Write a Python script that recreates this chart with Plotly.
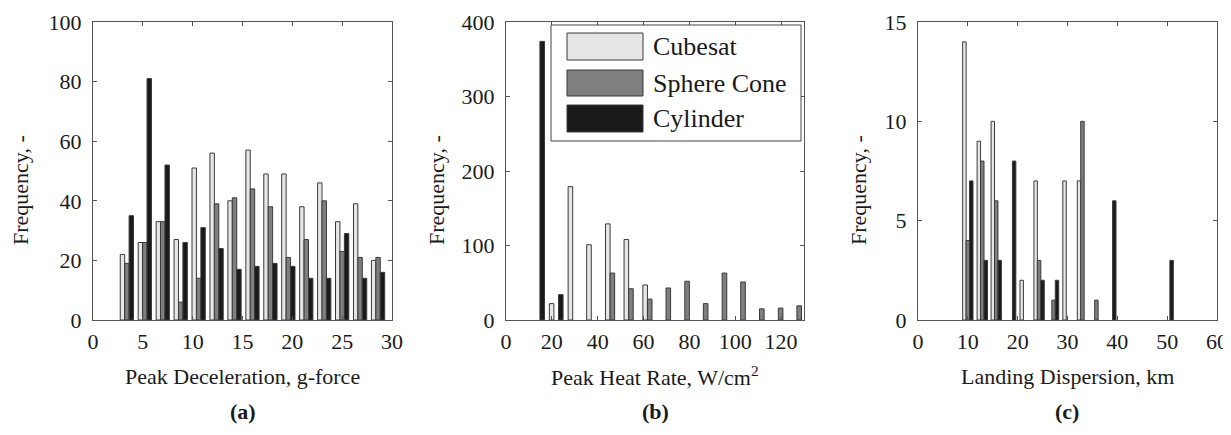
import plotly.graph_objects as go

PAGE_W, PAGE_H = 1231, 435
OFF = 8                      # default page body margin in the written html
W, H = PAGE_W - OFF, PAGE_H - 2 * OFF

# ---------------- data ----------------
series_names = ["Cubesat", "Sphere Cone", "Cylinder"]

# (a) Peak deceleration, g-force
a_bins = [3.4, 5.2, 7.0, 8.8, 10.6, 12.4, 14.2, 16.0, 17.8, 19.6, 21.4, 23.2, 25.0, 26.8, 28.6]
a_cubesat = [22, 26, 33, 27, 51, 56, 40, 57, 49, 49, 38, 46, 33, 39, 20]
a_sphere = [19, 26, 33, 6, 14, 39, 41, 44, 38, 21, 27, 40, 23, 21, 21]
a_cylinder = [35, 81, 52, 26, 31, 24, 17, 18, 19, 18, 14, 14, 29, 14, 16]

# (b) Peak heat rate, W/cm^2
b_bins = [13.8, 21.9, 30.1, 38.2, 46.4, 54.5, 62.7, 70.8, 79.0, 87.1, 95.3, 103.4, 111.6, 119.8, 127.9]
b_cubesat = [0, 22, 179, 101, 129, 108, 47, 0, 0, 0, 0, 0, 0, 0, 0]
b_sphere = [0, 0, 0, 0, 63, 42, 28, 43, 52, 22, 63, 51, 15, 16, 19]
b_cylinder = [374, 34, 0, 0, 0, 0, 0, 0, 0, 0, 0, 0, 0, 0, 0]

# (c) Landing dispersion, km
c_bins = [10.0, 12.9, 15.7, 18.6, 21.5, 24.3, 27.2, 30.1, 33.0, 35.8, 38.7, 41.6, 44.5, 47.3, 50.2]
c_cubesat = [14, 9, 10, 0, 2, 7, 0, 7, 7, 0, 0, 0, 0, 0, 0]
c_sphere = [4, 8, 6, 0, 0, 3, 1, 0, 10, 1, 0, 0, 0, 0, 0]
c_cylinder = [7, 3, 3, 8, 0, 2, 2, 0, 0, 0, 6, 0, 0, 0, 3]

a_xticks = [0, 5, 10, 15, 20, 25, 30]
b_xticks = [0, 20, 40, 60, 80, 100, 120]
c_xticks = [0, 10, 20, 30, 40, 50, 60]
a_yticks = [0, 20, 40, 60, 80, 100]
b_yticks = [0, 100, 200, 300, 400]
c_yticks = [0, 5, 10, 15]

x_titles = ["Peak Deceleration, g-force", "Peak Heat Rate, W/cm<sup>2</sup>", "Landing Dispersion, km"]
y_title = "Frequency, -"
panel_tags = ["(a)", "(b)", "(c)"]

# ---------------- style ----------------
fills = ["#e6e6e6", "#7f7f7f", "#1a1a1a"]
edge = "#3a3a3a"
FONT = "Liberation Serif, Times New Roman, serif"
TXT = "#1a1a1a"


def px(x):
    """page pixel x -> paper fraction"""
    return (x - OFF) / W


def py(y):
    """page pixel y -> paper fraction"""
    return 1 - (y - OFF) / H


panels = [
    dict(bins=a_bins, vals=[a_cubesat, a_sphere, a_cylinder], xr=[0, 30], yr=[0, 100],
         xt=a_xticks, yt=a_yticks, left=93, right=392, ylab_x=20, cx=243),
    dict(bins=b_bins, vals=[b_cubesat, b_sphere, b_cylinder], xr=[0, 130], yr=[0, 400],
         xt=b_xticks, yt=b_yticks, left=506, right=804, ylab_x=436, cx=655),
    dict(bins=c_bins, vals=[c_cubesat, c_sphere, c_cylinder], xr=[0, 60], yr=[0, 15],
         xt=c_xticks, yt=c_yticks, left=918, right=1217, ylab_x=858, cx=1067),
]
TOP, BOT = 22, 320

fig = go.Figure()
layout = dict(
    width=W, height=H, margin=dict(l=0, r=0, t=0, b=0, autoexpand=False),
    paper_bgcolor="white", plot_bgcolor="white",
    barmode="group", bargap=0.26, bargroupgap=0.0,
    showlegend=False, font=dict(family=FONT, size=22, color=TXT),
)
annotations = []
shapes = []


def note(text, x, y, size=22, angle=0, xanchor="center"):
    annotations.append(dict(text=text, textangle=angle, xref="paper", yref="paper",
                            x=px(x), y=py(y), xanchor=xanchor, yanchor="middle",
                            showarrow=False, font=dict(family=FONT, size=size, color=TXT)))


for i, p in enumerate(panels):
    sfx = "" if i == 0 else str(i + 1)
    xa, ya = "x" + sfx, "y" + sfx
    for j, name in enumerate(series_names):
        # empty bins are not drawn (no bar outline at the baseline)
        yv = [v if v != 0 else None for v in p["vals"][j]]
        fig.add_trace(go.Bar(
            x=p["bins"], y=yv, name=name, xaxis=xa, yaxis=ya,
            marker=dict(color=fills[j], line=dict(color=edge, width=1)),
            offsetgroup=str(j),
        ))
    common = dict(showline=True, linecolor="#555555", linewidth=1, mirror="ticks",
                  ticks="inside", ticklen=4, tickcolor="#555555", showgrid=False,
                  zeroline=False, automargin=False, ticklabeloverflow="allow",
                  tickfont=dict(family=FONT, size=22, color=TXT))
    layout["xaxis" + sfx] = dict(common, domain=[px(p["left"]), px(p["right"])],
                                 range=p["xr"], tickvals=p["xt"], anchor=ya,
                                 ticklabelstandoff=2)
    layout["yaxis" + sfx] = dict(common, domain=[py(BOT), py(TOP)],
                                 range=p["yr"], tickvals=p["yt"], anchor=xa,
                                 ticklabelstandoff=6)
    note(y_title, p["ylab_x"], 190, angle=-90)
    note(x_titles[i], (p["left"] + p["right"]) / 2, 376)
    note("<b>%s</b>" % panel_tags[i], p["cx"], 411)

# legend drawn in panel (b)
shapes.append(dict(type="rect", xref="paper", yref="paper",
                   x0=px(551), x1=px(801), y0=py(141), y1=py(25),
                   line=dict(color="#444444", width=1), fillcolor="white"))
patch_rows = [(33, 60), (70, 96), (105, 132)]
for j, name in enumerate(series_names):
    y0, y1 = patch_rows[j]
    shapes.append(dict(type="rect", xref="paper", yref="paper",
                       x0=px(567), x1=px(643), y0=py(y1), y1=py(y0),
                       line=dict(color=edge, width=1), fillcolor=fills[j]))
    note(name, 651, (y0 + y1) / 2, size=26, xanchor="left")

layout["annotations"] = annotations
layout["shapes"] = shapes
fig.update_layout(**layout)
fig.write_html("out.html")
